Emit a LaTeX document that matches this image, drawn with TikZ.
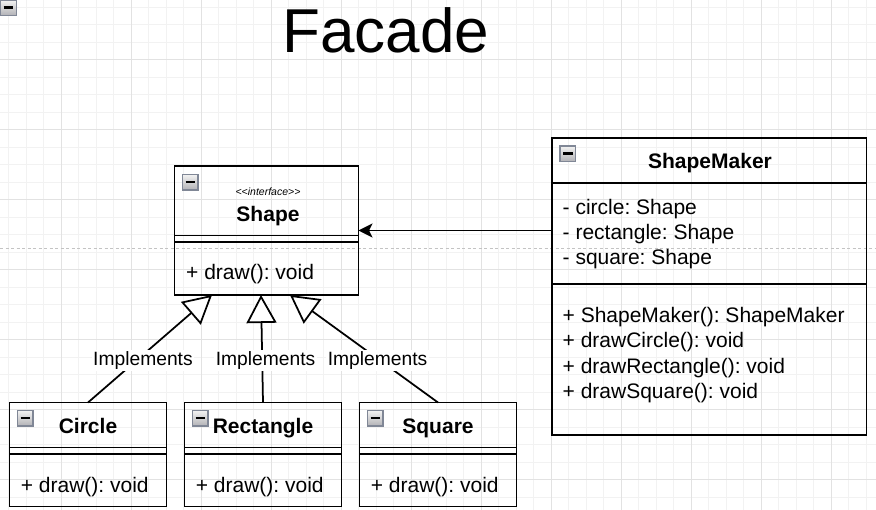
\documentclass[tikz,border=0pt]{standalone}
\usepackage{fontspec}
\setmainfont{Liberation Sans}
\usetikzlibrary{arrows.meta,calc}
\definecolor{gridminor}{RGB}{242,242,242}
\definecolor{gridmajor}{RGB}{226,226,226}
\definecolor{pagebreak}{RGB}{195,195,195}
\definecolor{iconborder}{RGB}{128,135,150}
\definecolor{icontop}{RGB}{242,242,242}
\definecolor{iconbot}{RGB}{178,178,182}
\frenchspacing
\begin{document}
\begin{tikzpicture}[x=1pt,y=-1pt,
  umlbox/.style={draw, line width=1.75pt, inner sep=0pt, outer sep=0pt},
  sepline/.style={line width=1.75pt},
  cls/.style={inner sep=0pt, font=\fontsize{21}{25}\selectfont\bfseries, anchor=base},
  member/.style={inner sep=0pt, font=\fontsize{21}{25}\selectfont, anchor=base west},
  stereo/.style={inner sep=0pt, font=\fontsize{10.5}{12}\selectfont\itshape, anchor=base},
  lbl/.style={fill=white, inner sep=1.5pt, font=\fontsize{19.25}{23}\selectfont},
  impl/.style={line width=1.75pt, -{Triangle[length=28pt,width=30pt,fill=white]}},
  assoc/.style={line width=1.75pt, -{Stealth[length=14pt,width=14pt,inset=3.5pt]}},
  minorline/.style={draw=gridminor, line width=1pt},
  majorline/.style={draw=gridmajor, line width=1pt},
  minusicon/.pic={
    \shade[top color=icontop,bottom color=iconbot,draw=iconborder,line width=1.2pt] (0,0) rectangle (15.5,15.5);
    \draw[line width=2.5pt] (3,7.75) -- (12.5,7.75);
  }
]
\useasboundingbox (0,0) rectangle (876,510);
\fill[white] (0,0) rectangle (876,510);
% grid
\foreach \i in {0,...,49} { \draw[minorline] ({8.5+17.5*\i},0) -- ++(0,510); }
\foreach \j in {0,...,28} { \draw[minorline] (0,{7.5+17.5*\j}) -- ++(876,0); }
\foreach \i in {0,...,11} { \draw[majorline] ({61+70*\i},0) -- ++(0,510); }
\foreach \j in {0,...,6} { \draw[majorline] (0,{60+70*\j}) -- ++(876,0); }
% page break
\draw[pagebreak, line width=1pt, dash pattern=on 3pt off 2.5pt] (0,248.3) -- (876,248.3);

\pic at (0.6,0) {minusicon};

% title
\node[inner sep=0pt, anchor=base, font=\fontsize{62}{72}\selectfont] (title) at (386,53) {Facade};

% Shape interface
\node[umlbox, minimum width=184pt, minimum height=129pt] (shape) at (266.5,230.5) {};
\draw[sepline] (shape.west |- 0,235.5) -- (shape.east |- 0,235.5);
\draw[sepline] (shape.west |- 0,242) -- (shape.east |- 0,242);
\pic at ([shift={(8,8.5)}]shape.north west) {minusicon};
\node[stereo] (shapest) at (268,196) {<{}<interface>{}>};
\node[cls] (shapet) at (268,221.7) {Shape};
\node[member] (shapem) at (186,280) {+ draw(): void};

% ShapeMaker
\node[umlbox, minimum width=314.5pt, minimum height=297pt] (maker) at (709.25,286.5) {};
\draw[sepline] (maker.west |- 0,183) -- (maker.east |- 0,183);
\draw[sepline] (maker.west |- 0,284) -- (maker.east |- 0,284);
\pic at ([shift={(8,8)}]maker.north west) {minusicon};
\node[cls] (makert) at (710,169) {ShapeMaker};
\node[member] (ma1) at (562.5,214.3) {- circle: Shape};
\node[member] (ma2) at (562.5,239.3) {- rectangle: Shape};
\node[member] (ma3) at (562.5,265) {- square: Shape};
\node[member] (mm1) at (562.5,322.7) {+ ShapeMaker(): ShapeMaker};
\node[member] (mm2) at (562.5,347.7) {+ drawCircle(): void};
\node[member] (mm3) at (562.5,373.3) {+ drawRectangle(): void};
\node[member] (mm4) at (562.5,398.3) {+ drawSquare(): void};

% Circle
\node[umlbox, minimum width=157pt, minimum height=104pt] (circle) at (88,454.5) {};
\draw[sepline] (circle.west |- 0,447.5) -- (circle.east |- 0,447.5);
\draw[sepline] (circle.west |- 0,454) -- (circle.east |- 0,454);
\pic at ([shift={(8,8)}]circle.north west) {minusicon};
\node[cls] (circlet) at (88,433.3) {Circle};
\node[member] (circlem) at (20.7,492.3) {+ draw(): void};

% Rectangle
\node[umlbox, minimum width=157pt, minimum height=104pt] (rect) at (263,454.5) {};
\draw[sepline] (rect.west |- 0,447.5) -- (rect.east |- 0,447.5);
\draw[sepline] (rect.west |- 0,454) -- (rect.east |- 0,454);
\pic at ([shift={(8,8)}]rect.north west) {minusicon};
\node[cls] (rectt) at (263,433.3) {Rectangle};
\node[member] (rectm) at (195.7,492.3) {+ draw(): void};

% Square
\node[umlbox, minimum width=157pt, minimum height=104pt] (square) at (438,454.5) {};
\draw[sepline] (square.west |- 0,447.5) -- (square.east |- 0,447.5);
\draw[sepline] (square.west |- 0,454) -- (square.east |- 0,454);
\pic at ([shift={(8,8)}]square.north west) {minusicon};
\node[cls] (squaret) at (438,433.3) {Square};
\node[member] (squarem) at (370.7,492.3) {+ draw(): void};

% connectors
\draw[impl] (circle.north) -- ([xshift=-54.5pt]shape.south)
  node[lbl, pos=0.395, xshift=6pt] (i1) {Implements};
\draw[impl] (rect.north) -- ([xshift=-5.5pt]shape.south)
  node[lbl, pos=0.395, xshift=3.3pt] (i2) {Implements};
\draw[impl] (square.north) -- ([xshift=23.5pt]shape.south)
  node[lbl, pos=0.395, xshift=-2pt] (i3) {Implements};
\draw[assoc] (maker.west |- shape.east) -- (shape.east);
\end{tikzpicture}
\end{document}
